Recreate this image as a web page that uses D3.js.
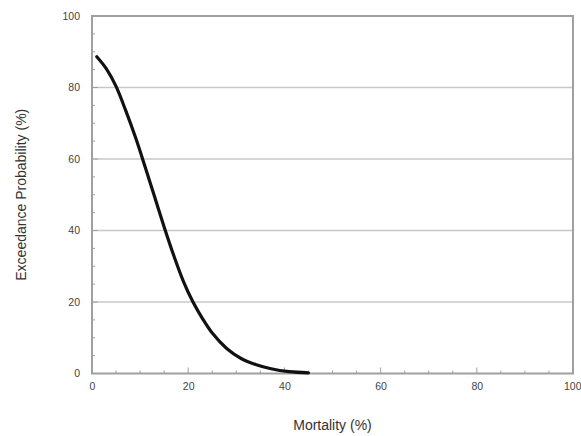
<!DOCTYPE html>
<html><head><meta charset="utf-8">
<script src="https://cdn.jsdelivr.net/npm/d3@7"></script>
<style>body{margin:0;background:#fff;}svg{display:block;font-family:"Liberation Sans",Arial,sans-serif;}</style>
</head><body>
<svg id="c" width="581" height="436"></svg>
<script>
const mortality = [1,3,5,7,9,11,13,15,17,19,21,23,25,28,31,34,37,41,45];
const exceedance = [88.6,85.2,80.3,73.6,66.2,58,49.5,41,33,25.8,20,15.3,11.3,7,4.2,2.5,1.4,0.5,0.2];
const xTicks = [0,20,40,60,80,100];
const yTicks = [0,20,40,60,80,100];
const xTitle = "Mortality (%)";
const yTitle = "Exceedance Probability (%)";

const svg = d3.select("#c");
const m = {l:92, r:8, t:16, b:62.5};
const W = 581, H = 436;
const x = d3.scaleLinear().domain([0,100]).range([m.l, W-m.r]);
const y = d3.scaleLinear().domain([0,100]).range([H-m.b, m.t]);
const grey = "#a0a0a0";

svg.append("g").selectAll("line").data(yTicks.filter(d=>d>0&&d<100)).join("line")
  .attr("x1", x(0)).attr("x2", x(100)).attr("y1", d=>y(d)).attr("y2", d=>y(d))
  .attr("stroke", "#c8c8c8").attr("stroke-width", 1.5);

const minor = d3.range(5,100,5);
svg.append("g").selectAll("line").data(minor).join("line")
  .attr("x1", d=>x(d)).attr("x2", d=>x(d)).attr("y1", y(0)).attr("y2", d=> d%20===0 ? y(0)-6 : y(0)-3)
  .attr("stroke", grey).attr("stroke-width", 1);
svg.append("g").selectAll("line").data(minor).join("line")
  .attr("y1", d=>y(d)).attr("y2", d=>y(d)).attr("x1", x(0)).attr("x2", d=> d%20===0 ? x(0)+6 : x(0)+3)
  .attr("stroke", grey).attr("stroke-width", 1);

svg.append("rect").attr("x", x(0)).attr("y", y(100)).attr("width", x(100)-x(0)).attr("height", y(0)-y(100))
  .attr("fill", "none").attr("stroke", grey).attr("stroke-width", 2);

const xa = svg.append("g").attr("transform", `translate(0,${y(0)})`)
  .call(d3.axisBottom(x).tickValues(xTicks).tickSize(0).tickPadding(9));
xa.select(".domain").remove();
xa.selectAll("text").attr("font-size", 10.5).attr("fill", "#444").attr("font-family", "Liberation Sans, Arial, sans-serif");
xa.selectAll("text").filter(d=>d===100).attr("text-anchor","end").attr("dx", 8);
const ya = svg.append("g").attr("transform", `translate(${x(0)},0)`)
  .call(d3.axisLeft(y).tickValues(yTicks).tickSize(0).tickPadding(12));
ya.select(".domain").remove();
ya.selectAll("text").attr("font-size", 10.5).attr("fill", "#444").attr("font-family", "Liberation Sans, Arial, sans-serif");

const line = d3.line().x((d,i)=>x(mortality[i])).y(d=>y(d)).curve(d3.curveCatmullRom.alpha(0.5));
svg.append("path").datum(exceedance).attr("d", line)
  .attr("fill", "none").attr("stroke", "#111").attr("stroke-width", 3.2).attr("stroke-linecap","round");

svg.append("text").attr("x", (x(0)+x(100))/2).attr("y", 430).attr("text-anchor", "middle")
  .attr("font-size", 14).attr("fill", "#333").text(xTitle);
svg.append("text").attr("transform", `translate(26,${(y(0)+y(100))/2}) rotate(-90)`).attr("text-anchor", "middle")
  .attr("font-size", 14).attr("fill", "#333").text(yTitle);
</script>
</body></html>
